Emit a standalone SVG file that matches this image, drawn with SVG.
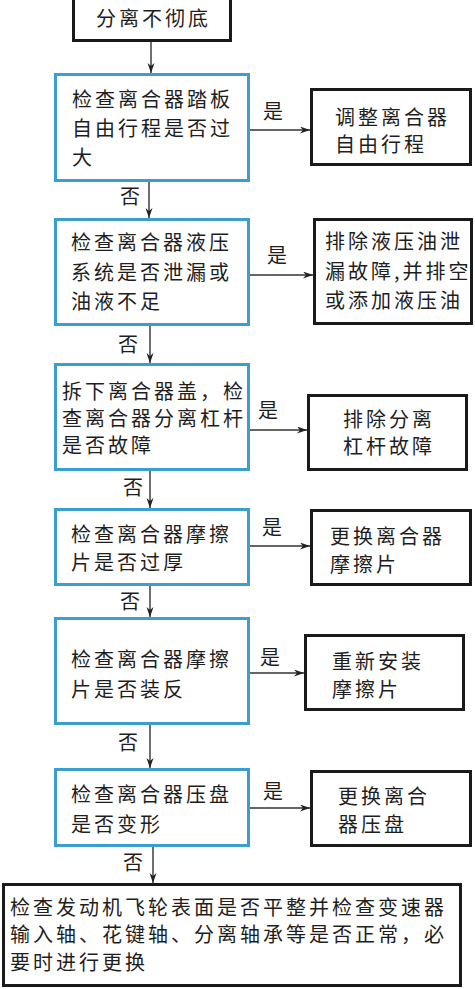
<svg xmlns="http://www.w3.org/2000/svg" width="475" height="989" viewBox="0 0 475 989">
<defs>
<marker id="arr" markerUnits="userSpaceOnUse" markerWidth="11" markerHeight="8" refX="10" refY="3.5" orient="auto">
<path d="M0,0 L10,3.5 L0,7 L3,3.5 z" fill="#222"/>
</marker>
<style>
.b{fill:#fff;stroke:#3a9fcf;stroke-width:3}
.k{fill:#fff;stroke:#1a1a1a;stroke-width:3}
text{font-family:"Noto Sans CJK SC","Noto Sans",sans-serif;font-size:20px;fill:#1e1e1e;letter-spacing:3px}
.c line{stroke:#333;stroke-width:1.4;marker-end:url(#arr)}
</style>
</defs>
<rect width="475" height="989" fill="#fff"/>
<g id="start"><rect class="k" x="73.5" y="-5" width="157" height="45.5"/><text x="96" y="26">分离不彻底</text></g>
<g id="q1"><rect class="b" x="55.5" y="74.5" width="193" height="106"/><text x="72" y="107">检查离合器踏板</text><text x="72" y="136">自由行程是否过</text><text x="72" y="165">大</text></g>
<g id="a1"><rect class="k" x="311.5" y="89.5" width="159" height="75"/><text x="335" y="125">调整离合器</text><text x="335" y="152">自由行程</text></g>
<g id="q2"><rect class="b" x="55.5" y="219.5" width="193" height="105"/><text x="71" y="250">检查离合器液压</text><text x="71" y="280">系统是否泄漏或</text><text x="71" y="309">油液不足</text></g>
<g id="a2"><rect class="k" x="314.5" y="219.5" width="157" height="104"/><text x="325" y="249">排除液压油泄</text><text x="325" y="279">漏故障,并排空</text><text x="325" y="308">或添加液压油</text></g>
<g id="q3"><rect class="b" x="55.5" y="364.5" width="193" height="105"/><text x="62" y="399">拆下离合器盖，检</text><text x="62" y="426">查离合器分离杠杆</text><text x="62" y="453">是否故障</text></g>
<g id="a3"><rect class="k" x="308.5" y="395.5" width="158" height="74"/><text x="343" y="427">排除分离</text><text x="343" y="454">杠杆故障</text></g>
<g id="q4"><rect class="b" x="55.5" y="509.5" width="193" height="75"/><text x="71" y="542">检查离合器摩擦</text><text x="71" y="570">片是否过厚</text></g>
<g id="a4"><rect class="k" x="311.5" y="510.5" width="159" height="74"/><text x="330" y="544">更换离合器</text><text x="330" y="572">摩擦片</text></g>
<g id="q5"><rect class="b" x="55.5" y="618.5" width="193" height="105"/><text x="71" y="667">检查离合器摩擦</text><text x="71" y="697">片是否装反</text></g>
<g id="a5"><rect class="k" x="305.5" y="635.5" width="158" height="74"/><text x="332" y="669">重新安装</text><text x="332" y="697">摩擦片</text></g>
<g id="q6"><rect class="b" x="55.5" y="769.5" width="193" height="76"/><text x="71" y="802">检查离合器压盘</text><text x="71" y="832">是否变形</text></g>
<g id="a6"><rect class="k" x="311.5" y="771.5" width="159" height="74"/><text x="338" y="804">更换离合</text><text x="338" y="832">器压盘</text></g>
<g id="end"><rect class="k" x="3.5" y="884.5" width="457" height="101"/><text x="10" y="915">检查发动机飞轮表面是否平整并检查变速器</text><text x="10" y="942">输入轴、花键轴、分离轴承等是否正常，必</text><text x="10" y="970">要时进行更换</text></g>
<g id="connectors" class="c">
<line x1="151" y1="42" x2="151" y2="73"/>
<line x1="149" y1="182" x2="149" y2="218"/>
<line x1="150" y1="326" x2="150" y2="363"/>
<line x1="150" y1="471" x2="150" y2="508"/>
<line x1="150" y1="586" x2="150" y2="617"/>
<line x1="150" y1="725" x2="150" y2="768"/>
<line x1="153" y1="847" x2="153" y2="883"/>
<line x1="250" y1="130" x2="310" y2="130"/>
<line x1="250" y1="275" x2="313" y2="275"/>
<line x1="250" y1="430" x2="307" y2="430"/>
<line x1="250" y1="546" x2="310" y2="546"/>
<line x1="250" y1="673" x2="304" y2="673"/>
<line x1="250" y1="808" x2="310" y2="808"/>
</g>
<g id="labels">
<text x="263" y="119">是</text><text x="267" y="263">是</text><text x="258" y="418">是</text><text x="262" y="535">是</text><text x="260" y="665">是</text><text x="263" y="799">是</text>
<text x="120" y="204">否</text><text x="118" y="352">否</text><text x="123" y="495">否</text><text x="120" y="609">否</text><text x="118" y="750">否</text><text x="123" y="870">否</text>
</g>
</svg>
